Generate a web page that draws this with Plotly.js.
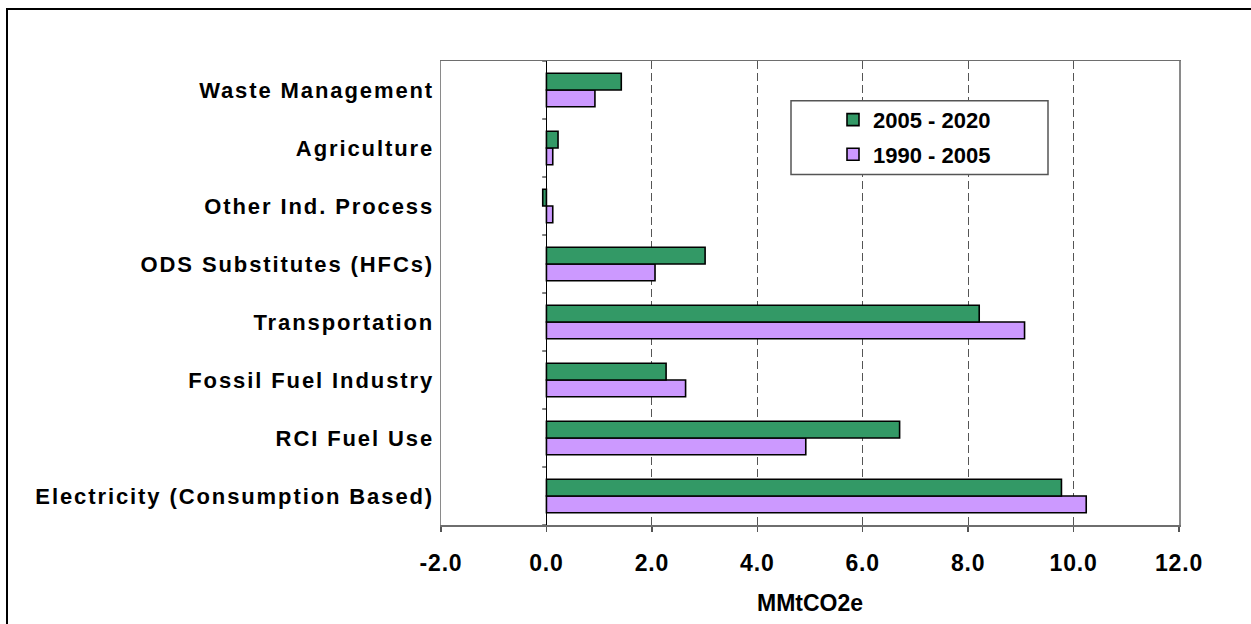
<!DOCTYPE html>
<html><head><meta charset="utf-8">
<script src="https://cdn.plot.ly/plotly-3.0.1.min.js"></script>
<style>
html,body{margin:0;padding:0;background:#fff;overflow:hidden}
#frame{position:absolute;left:6px;top:8px;width:1300px;height:700px;border:2px solid #000;pointer-events:none;z-index:2}
#chart{position:absolute;left:0;top:0;width:1251px;height:624px}
#chart .ytick text{letter-spacing:1.9px}
#chart .xtick text{letter-spacing:0.8px}
</style></head><body>
<div id="chart"></div><div id="frame"></div>
<script>
// ---- data (bottom to top) ----
const categories = [
  'Electricity (Consumption Based)',
  'RCI Fuel Use',
  'Fossil Fuel Industry',
  'Transportation',
  'ODS Substitutes (HFCs)',
  'Other Ind. Process',
  'Agriculture',
  'Waste Management'
];
const values1990to2005 = [10.24, 4.92, 2.64, 9.07, 2.06, 0.12, 0.12, 0.92];
const values2005to2020 = [9.77, 6.70, 2.27, 8.21, 3.01, -0.07, 0.22, 1.42];
const seriesNames = ['1990 - 2005', '2005 - 2020'];
const xTickValues = [-2, 0, 2, 4, 6, 8, 10, 12];
const xTickLabels = ['-2.0', '0.0', '2.0', '4.0', '6.0', '8.0', '10.0', '12.0'];
const xAxisTitle = 'MMtCO2e';

// ---- layout geometry ----
const W = 1251, H = 624;
const M = {l: 441, r: 72, t: 61, b: 97, pad: 0};
const pw = W - M.l - M.r, ph = H - M.t - M.b;
const px2x = px => (px - M.l) / pw;
const py2y = py => (H - M.b - py) / ph;

const FONT = 'Liberation Sans, Arial, sans-serif';

const traces = [
  {type: 'bar', orientation: 'h', name: seriesNames[0], y: categories, x: values1990to2005,
   marker: {color: '#CC99FF', line: {color: '#000', width: 1.6}}, legendgroup: 'g2', legendrank: 2},
  {type: 'bar', orientation: 'h', name: seriesNames[1], y: categories, x: values2005to2020,
   marker: {color: '#339966', line: {color: '#000', width: 1.6}}, legendgroup: 'g1', legendrank: 1}
];

const shapes = [];
// category boundary ticks on the zero axis
for (let i = 0; i <= categories.length; i++) {
  shapes.push({type: 'line', xref: 'x', yref: 'y', x0: -0.08, x1: 0, y0: i - 0.5, y1: i - 0.5,
    line: {color: '#000', width: 1}});
}
// legend box
shapes.push({type: 'rect', xref: 'paper', yref: 'paper', layer: 'above',
  x0: px2x(791), x1: px2x(1048), y0: py2y(175), y1: py2y(101),
  fillcolor: '#fff', line: {color: '#555', width: 1.5}});

const layout = {
  width: W, height: H, margin: M,
  paper_bgcolor: '#fff', plot_bgcolor: '#fff',
  font: {family: FONT, size: 22, color: '#000'},
  barmode: 'group', bargap: 0.42, bargroupgap: 0,
  showlegend: true,
  legend: {x: px2x(833), xanchor: 'left', y: py2y(99), yanchor: 'top',
    traceorder: 'grouped', tracegroupgap: 3,
    bgcolor: 'rgba(0,0,0,0)', borderwidth: 0,
    font: {family: FONT, size: 22, color: '#000', weight: 'bold'}},
  xaxis: {range: [-2, 12], tickvals: xTickValues, ticktext: xTickLabels,
    showgrid: true, gridcolor: '#555', griddash: '8px,4px', gridwidth: 1,
    zeroline: true, zerolinecolor: '#000', zerolinewidth: 1.5,
    showline: true, linecolor: '#6e6e6e', linewidth: 1.5, mirror: true,
    ticks: 'outside', ticklen: 5, tickcolor: '#555', tickwidth: 1.5,
    ticklabelstandoff: 12, automargin: true,
    tickfont: {family: FONT, size: 23, color: '#000', weight: 'bold'},
    title: {text: xAxisTitle, font: {family: FONT, size: 23, color: '#000', weight: 'bold'}, standoff: 20},
    fixedrange: true},
  yaxis: {type: 'category', categoryorder: 'array', categoryarray: categories,
    range: [-0.5, categories.length - 0.5],
    showgrid: false, zeroline: false,
    showline: true, linecolor: '#8a8a8a', linewidth: 1.5, mirror: true,
    ticks: '', ticklabelstandoff: 1,
    tickfont: {family: FONT, size: 22, color: '#000', weight: 'bold'},
    fixedrange: true},
  shapes: shapes
};

Plotly.newPlot('chart', traces, layout, {staticPlot: true, displayModeBar: false});
</script>
</body></html>
